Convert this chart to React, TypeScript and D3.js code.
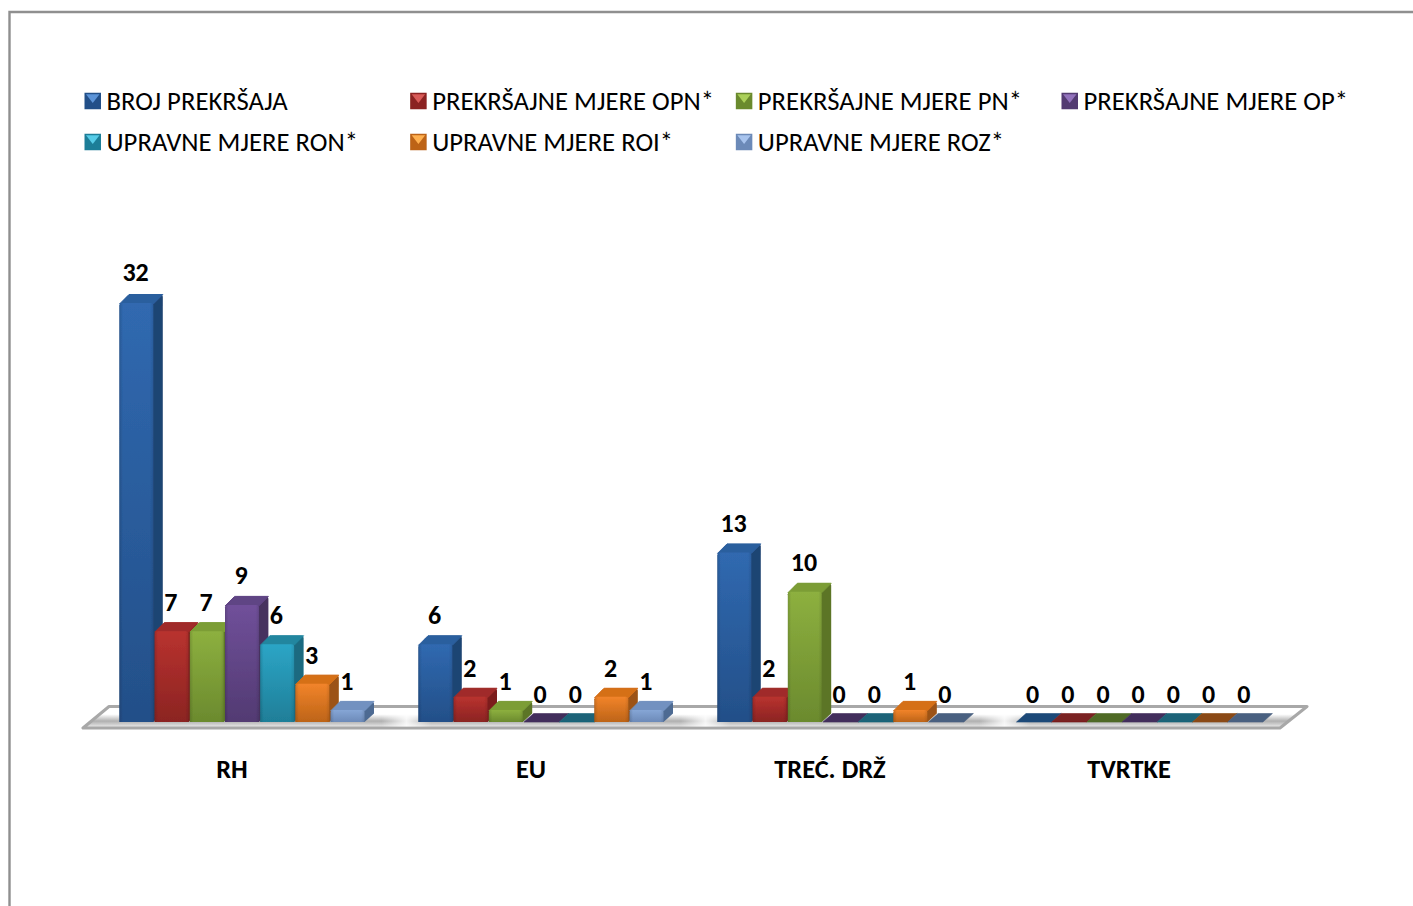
import React from "react";
import * as d3 from "d3";

const categories = ["RH", "EU", "TREĆ. DRŽ", "TVRTKE"];
const seriesNames = [
  "BROJ PREKRŠAJA",
  "PREKRŠAJNE MJERE OPN*",
  "PREKRŠAJNE MJERE PN*",
  "PREKRŠAJNE MJERE OP*",
  "UPRAVNE MJERE RON*",
  "UPRAVNE MJERE ROI*",
  "UPRAVNE MJERE ROZ*",
];
const brojPrekrsaja = [32, 6, 13, 0];
const mjereOpn = [7, 2, 2, 0];
const mjerePn = [7, 1, 10, 0];
const mjereOp = [9, 0, 0, 0];
const mjereRon = [6, 0, 0, 0];
const mjereRoi = [3, 2, 1, 0];
const mjereRoz = [1, 1, 0, 0];
const seriesValues = [brojPrekrsaja, mjereOpn, mjerePn, mjereOp, mjereRon, mjereRoi, mjereRoz];

const front = ["#3069b0", "#b9322f", "#8db03f", "#70509a", "#2ca5c6", "#f2842a", "#86a6d6"];
const frontDark = ["#234f88", "#8b2422", "#6b8a2e", "#523a72", "#1f7e98", "#bd6418", "#6c8ab8"];
const side = ["#1f4473", "#7b1f1d", "#5b7428", "#46315f", "#1a6a80", "#9c5312", "#4d6a92"];
const top = ["#2c5f9e", "#a02b29", "#7b9d36", "#5f4484", "#23869f", "#d56f18", "#7291c0"];
const zeroTop = ["#1f4a78", "#7a2020", "#4f6a28", "#432f5c", "#1a6478", "#8a4a14", "#4a6080"];
const swatchLight = ["#5c94d8", "#d85a58", "#abd05a", "#9272bc", "#56cce8", "#ffb050", "#a8c4ee"];

const FONT = "Carlito, Calibri, Lato, 'Noto Sans', sans-serif";
const W = 1413;
const H = 906;
const baseY = 722;
const DX = 9.5;
const DY = 8.5;
const GAP = 1.4;

const x0 = d3.scaleBand<string>().domain(categories).range([119.5, 1315.5]);
const x1 = d3.scaleBand<string>().domain(seriesNames).range([0, 246.4]);
const y = d3.scaleLinear().domain([0, 32]).range([723, 303]);
const labelY = d3.scaleLinear().domain([0, 32]).range([694, 272]);

const legendX = d3.scalePoint<number>().domain([0, 1, 2, 3] as any).range([84.5, 1061.5]);
const legendY = d3.scalePoint<number>().domain([0, 1] as any).range([101, 142]);

function poly(pts: [number, number][]) {
  return d3.line()(pts)! + "Z";
}

function Bar({ s, c }: { s: number; c: number }) {
  const v = seriesValues[s][c];
  const x = x0(categories[c])! + x1(seriesNames[s])!;
  const w = x1.bandwidth() - GAP;
  const yT = y(v);
  if (v === 0) {
    return (
      <path
        d={poly([[x, baseY], [x + w + GAP, baseY], [x + w + GAP + DX, baseY - DY], [x + DX, baseY - DY]])}
        fill={zeroTop[s]}
        stroke={zeroTop[s]}
        strokeWidth={0.6}
        strokeLinejoin="round"
      />
    );
  }
  const r = 2.5;
  const outline =
    `M${x},${baseY}V${yT + r}L${x + DX - r},${yT - DY + r}` +
    `Q${x + DX},${yT - DY} ${x + DX + r},${yT - DY}` +
    `H${x + w + DX - r}Q${x + w + DX},${yT - DY} ${x + w + DX},${yT - DY + r}` +
    `V${baseY - DY}L${x + w},${baseY}Z`;
  const frontFace =
    `M${x},${baseY}V${yT + r}Q${x},${yT} ${x + r},${yT}H${x + w - r}Q${x + w},${yT} ${x + w},${yT + r}V${baseY}Z`;
  return (
    <g>
      <path d={outline} fill={side[s]} />
      <path
        d={poly([[x, yT + 1], [x + DX, yT - DY], [x + w + DX, yT - DY], [x + w, yT + 1]])}
        fill={top[s]}
        stroke={top[s]}
        strokeWidth={1}
        strokeLinejoin="round"
      />
      <path d={frontFace} fill={`url(#front${s})`} />
      <path d={frontFace} fill="url(#bevel)" />
    </g>
  );
}

function Swatch({ s, x, cy }: { s: number; x: number; cy: number }) {
  const z = 16.5;
  const t = cy - z / 2;
  const m = x + z / 2;
  return (
    <g filter="url(#soft)">
      <rect x={x} y={t} width={z} height={z} fill={frontDark[s]} />
      <path d={poly([[x + 1.5, t + 1.5], [x + z - 1.5, t + 1.5], [m, t + z * 0.62]])} fill={swatchLight[s]} />
    </g>
  );
}

export default function App() {
  const groupEnds = categories.slice(0, 3).map((cat) => x0(cat)! + 262);
  return (
    <svg
      width={W}
      height={H}
      viewBox={`0 0 ${W} ${H}`}
      style={{ position: "absolute", left: 0, top: 0, display: "block", background: "#fff" }}
    >
      <defs>
        {front.map((col, i) => (
          <linearGradient key={i} id={`front${i}`} x1="0" y1="0" x2="0" y2="1">
            <stop offset="0" stopColor={col} />
            <stop offset="1" stopColor={frontDark[i]} />
          </linearGradient>
        ))}
        <linearGradient id="bevel" x1="0" y1="0" x2="1" y2="0">
          <stop offset="0" stopColor="#000" stopOpacity={0.14} />
          <stop offset="0.1" stopColor="#000" stopOpacity={0} />
          <stop offset="0.9" stopColor="#000" stopOpacity={0} />
          <stop offset="1" stopColor="#000" stopOpacity={0.1} />
        </linearGradient>
        <linearGradient id="floor" x1="0" y1="0" x2="0" y2="1">
          <stop offset="0" stopColor="#ffffff" />
          <stop offset="0.36" stopColor="#ffffff" />
          <stop offset="0.68" stopColor="#b0b0b0" />
          <stop offset="0.8" stopColor="#c8c8c8" />
          <stop offset="1" stopColor="#f4f4f4" />
        </linearGradient>
        <linearGradient id="floorGap" x1="0" y1="0" x2="1" y2="0">
          <stop offset="0" stopColor="#fff" stopOpacity={0} />
          <stop offset="0.5" stopColor="#fff" stopOpacity={0.85} />
          <stop offset="1" stopColor="#fff" stopOpacity={0} />
        </linearGradient>
        <filter id="soft" x="-5%" y="-5%" width="110%" height="110%">
          <feGaussianBlur stdDeviation="0.45" />
        </filter>
      </defs>

      <path d="M9.5 906V12H1413" fill="none" stroke="#8f8f8f" strokeWidth={2.4} />

      {seriesNames.map((name, s) => {
        const lx = legendX((s % 4) as any)!;
        const ly = legendY(Math.floor(s / 4) as any)!;
        return (
          <g key={name}>
            <Swatch s={s} x={lx} cy={ly} />
            <text x={lx + 22} y={ly} dy="0.35em" fontFamily={FONT} fontSize={26.7} fill="#000">
              {name}
            </text>
          </g>
        );
      })}

      <g filter="url(#soft)">
        <path
          d={poly([[83, 728], [1280, 728], [1307, 706.5], [109, 706.5]])}
          fill="url(#floor)"
          stroke="#a8a8a8"
          strokeWidth={3}
          strokeLinejoin="round"
        />
        {groupEnds.map((gx, i) => (
          <rect key={i} x={gx} y={708} width={50} height={18.5} fill="url(#floorGap)" />
        ))}
        {categories.map((cat, c) => (
          <g key={cat}>
            {seriesNames.map((name, s) => (
              <Bar key={name} s={s} c={c} />
            ))}
          </g>
        ))}
      </g>

      {categories.map((cat, c) =>
        seriesNames.map((name, s) => (
          <text
            key={cat + name}
            x={x0(cat)! + x1(name)! + x1.bandwidth() / 2 - 1.5}
            y={labelY(seriesValues[s][c])}
            dy="0.35em"
            textAnchor="middle"
            fontFamily={FONT}
            fontSize={26}
            fontWeight={700}
            fill="#000"
          >
            {seriesValues[s][c]}
          </text>
        ))
      )}

      {categories.map((cat) => (
        <text
          key={cat}
          x={x0(cat)! + 112.5}
          y={769}
          dy="0.35em"
          textAnchor="middle"
          fontFamily={FONT}
          fontSize={26.4}
          fontWeight={700}
          fill="#000"
        >
          {cat}
        </text>
      ))}
    </svg>
  );
}
